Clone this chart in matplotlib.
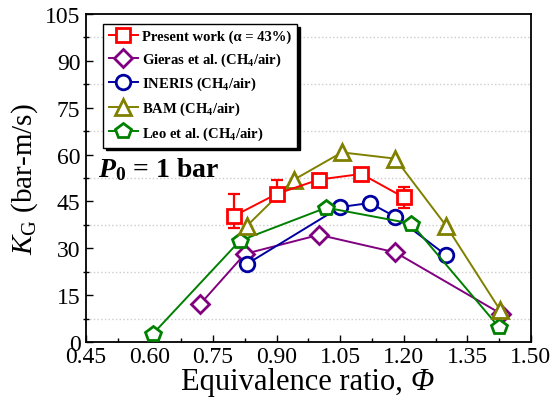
import matplotlib
matplotlib.use('Agg')
import matplotlib.pyplot as plt
import numpy as np
from matplotlib.ticker import MultipleLocator

plt.rcParams['font.family'] = ['Liberation Serif', 'DejaVu Serif']
plt.rcParams['mathtext.fontset'] = 'custom'
plt.rcParams['mathtext.rm'] = 'Liberation Serif'
plt.rcParams['mathtext.it'] = 'Liberation Serif:italic'
plt.rcParams['mathtext.bf'] = 'Liberation Serif:bold'
plt.rcParams['mathtext.bfit'] = 'Liberation Serif:italic:bold'

# 數據
present_x = [0.80, 0.90, 1.00, 1.10, 1.20]
present_y = [40.4, 47.4, 52.0, 53.8, 46.3]
present_err_lo = [4.0, 1.5, 1.5, 1.5, 3.5]
present_err_hi = [7.0, 4.5, 1.5, 1.5, 3.2]

gieras_x = [0.72, 0.825, 1.00, 1.18, 1.43]
gieras_y = [12.2, 28.2, 34.3, 28.7, 9.0]

ineris_x = [0.83, 1.05, 1.12, 1.18, 1.30]
ineris_y = [25.0, 43.2, 44.5, 40.1, 27.8]

bam_x = [0.83, 0.94, 1.054, 1.18, 1.30, 1.427]
bam_y = [37.2, 51.9, 60.7, 58.7, 37.2, 10.3]

leo_x = [0.608, 0.813, 1.017, 1.218, 1.425]
leo_y = [2.6, 32.4, 43.0, 37.9, 4.7]

W, H = 553, 410
fig = plt.figure(figsize=(W / 100, H / 100), dpi=100)
ax = fig.add_axes([0.1555, 0.1634, 0.8045, 0.80])

ms = 9.5
mew = 2.0
lw = 1.4

ax.errorbar(present_x, present_y, yerr=[present_err_lo, present_err_hi], fmt='none',
            ecolor='#FF0000', elinewidth=1.6, capsize=4.5, capthick=1.6, zorder=2)
ax.plot(present_x, present_y, '-s', color='#FF0000', mfc='white', mec='#FF0000',
        ms=ms, mew=mew, lw=lw, label='Present work (α = 43%)', zorder=6)
ax.plot(gieras_x, gieras_y, '-D', color='#800080', mfc='white', mec='#800080',
        ms=ms, mew=mew, lw=lw, label=r'Gieras et al. (CH$_\mathbf{4}$/air)', zorder=3)
ax.plot(ineris_x, ineris_y, '-o', color='#0000A0', mfc='white', mec='#0000A0',
        ms=ms + 1, mew=mew, lw=lw, label=r'INERIS (CH$_\mathbf{4}$/air)', zorder=4)
ax.plot(bam_x, bam_y, '-^', color='#808000', mfc='white', mec='#808000',
        ms=ms + 2, mew=mew, lw=lw, label=r'BAM (CH$_\mathbf{4}$/air)', zorder=5)
ax.plot(leo_x, leo_y, '-p', color='#008000', mfc='white', mec='#008000',
        ms=ms + 2, mew=mew, lw=lw, label=r'Leo et al. (CH$_\mathbf{4}$/air)', zorder=4)

ax.set_xlim(0.45, 1.50)
ax.set_ylim(0, 105)
ax.xaxis.set_minor_locator(MultipleLocator(0.075))
ax.yaxis.set_major_locator(MultipleLocator(15))
ax.yaxis.set_minor_locator(MultipleLocator(7.5))
ax.set_xticks(np.arange(0.45, 1.51, 0.15))
ax.set_xticklabels(['0.45', '0.60', '0.75', '0.90', '1.05', '1.20', '1.35', '1.50'])

ax.tick_params(axis='both', which='major', direction='in', length=5, width=1, labelsize=17)
ax.tick_params(axis='both', which='minor', direction='in', length=3, width=1)
ax.tick_params(axis='y', which='minor', direction='inout', length=5)
ax.tick_params(axis='x', pad=3)
ax.tick_params(axis='y', pad=4)

for s in ax.spines.values():
    s.set_linewidth(1.3)

ax.yaxis.grid(True, which='minor', linestyle=':', color='#cccccc', linewidth=1)
ax.set_axisbelow(True)

# x 軸標題: 斜體 Φ 另外放, 整體置中
xlab_y = 0.066
xl = fig.text(0, xlab_y, 'Equivalence ratio, ', fontsize=22, ha='left', va='center')
phi = fig.text(0, xlab_y, 'Φ', fontsize=22, style='italic', ha='left', va='center')
fig.canvas.draw()
w1 = xl.get_window_extent().width
w2 = phi.get_window_extent().width
x0 = 307 - (w1 + w2) / 2
xl.set_x(x0 / W)
phi.set_x((x0 + w1) / W)

ax.set_ylabel(r'$K_{\rm G}$ (bar-m/s)', fontsize=21, labelpad=4)

ax.text(0.026, 0.53, r'$\mathbfit{P}_\mathbf{0}$ = 1 bar', transform=ax.transAxes,
        fontsize=20, fontweight='bold', va='center', ha='left')

leg = ax.legend(loc='upper left', bbox_to_anchor=(0.038, 0.97), borderaxespad=0,
                fancybox=False, edgecolor='black', framealpha=1,
                shadow={'color': 'black', 'alpha': 1},
                prop={'weight': 'bold', 'size': 10.5}, handlelength=2.0,
                handletextpad=0.3, labelspacing=0.5, borderpad=0.4)
leg.get_frame().set_linewidth(1.0)

fig.savefig('out.png', dpi=100)
